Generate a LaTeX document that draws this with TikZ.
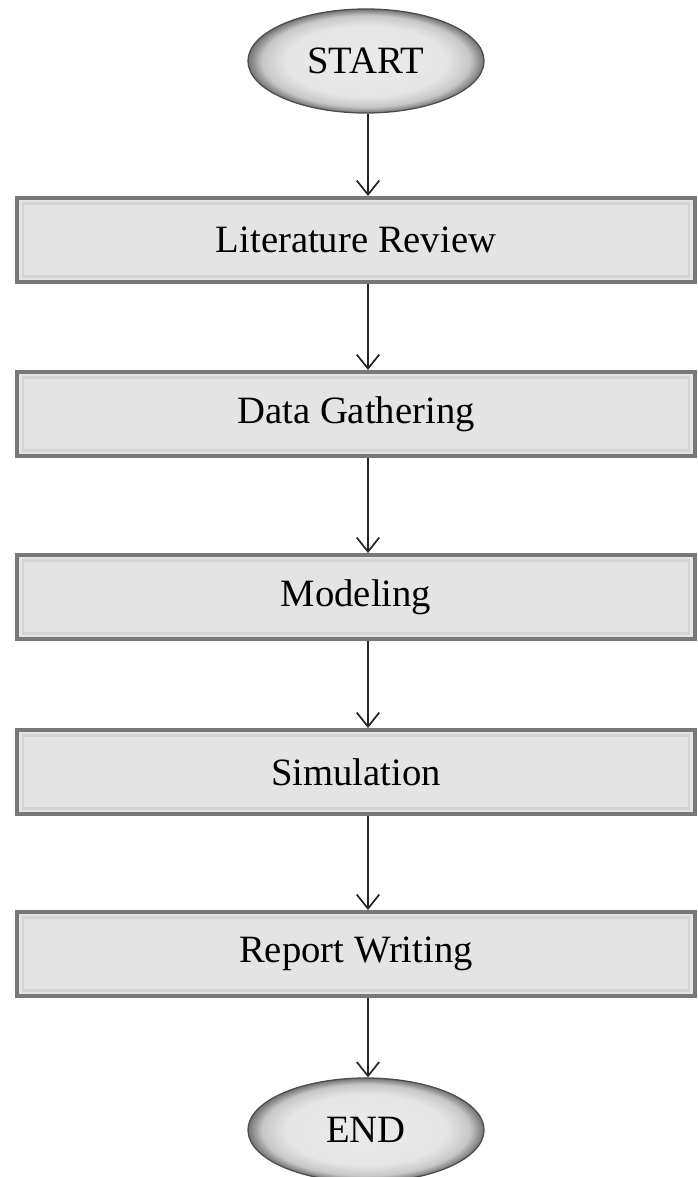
\documentclass[tikz,border=0pt]{standalone}
\usepackage{fontspec}
\setmainfont{Liberation Serif}
\usetikzlibrary{shapes.geometric,arrows.meta}
\definecolor{boxfill}{RGB}{228,228,228}
\definecolor{boxedge}{RGB}{120,120,120}
\definecolor{bevel}{RGB}{212,212,212}
\pgfdeclareradialshading{termshade}{\pgfpoint{0bp}{0bp}}{color(0bp)=(black!8); color(17bp)=(black!10); color(22bp)=(black!22); color(25bp)=(black!55); color(50bp)=(black!55)}

\begin{document}
\begin{tikzpicture}[x=0.025cm, y=-0.025cm,
  font=\fontsize{27.5}{32}\selectfont,
  stepbox/.style={rectangle, draw=boxedge, line width=2.6pt, fill=boxfill,
    minimum width=16.93cm, minimum height=2.11cm, inner sep=0pt,
    path picture={\draw[bevel, line width=1.6pt]
      ([xshift=4pt,yshift=-4pt]path picture bounding box.north west) rectangle
      ([xshift=-4pt,yshift=4pt]path picture bounding box.south east);}},
  terminal/.style={ellipse, draw=black!70, line width=0.9pt, shading=termshade,
    minimum width=5.9cm, minimum height=2.6cm, inner sep=0pt},
  flow/.style={-{Straight Barb[length=10pt, width=16pt, line width=1.2pt]}, line width=1.1pt, black!85}]
\useasboundingbox (0,0) rectangle (697,1177);

% Terminals
\node[terminal] (start) at (366, 61) {START};
\node[terminal] (end) at (366, 1130) {END};

% Steps
\node[stepbox] (review) at (356, 240) {Literature Review};
\node[stepbox] (data) at (356, 414) {Data Gathering};
\node[stepbox] (model) at (356, 597) {Modeling};
\node[stepbox] (sim) at (356, 772) {Simulation};
\node[stepbox] (report) at (356, 954) {Report Writing};

% Arrows
\coordinate (axis) at (368, 0);
\draw[flow] (start.south -| axis) -- (review.north -| axis);
\draw[flow] (review.south -| axis) -- (data.north -| axis);
\draw[flow] (data.south -| axis) -- (model.north -| axis);
\draw[flow] (model.south -| axis) -- (sim.north -| axis);
\draw[flow] (sim.south -| axis) -- (report.north -| axis);
\draw[flow] (report.south -| axis) -- (end.north -| axis);
\end{tikzpicture}
\end{document}
